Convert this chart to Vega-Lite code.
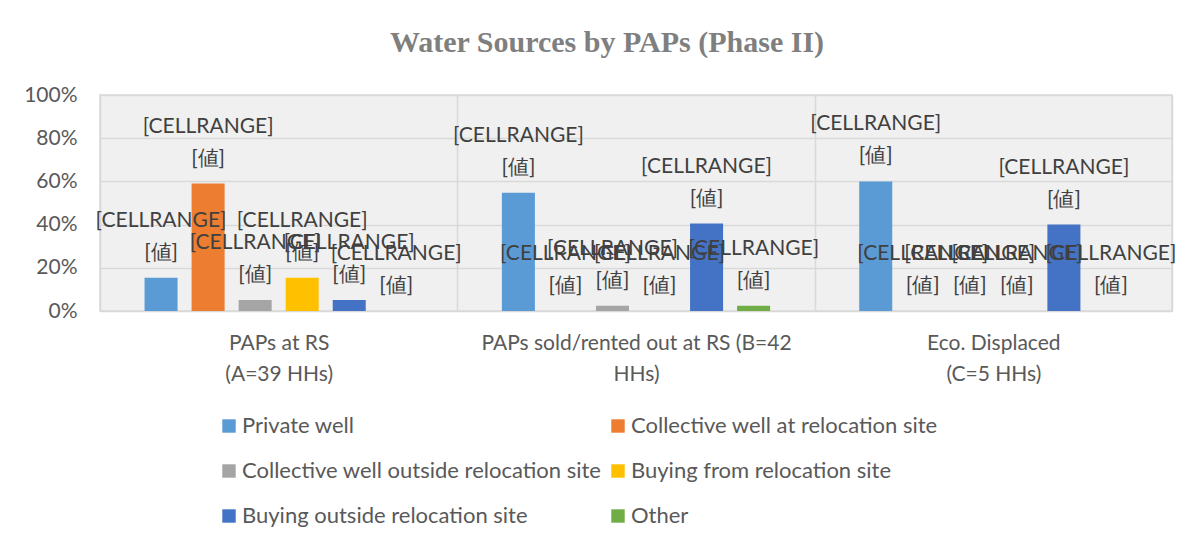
{
  "$schema": "https://vega.github.io/schema/vega-lite/v6.json",
  "autosize": {"type": "none"},
  "padding": {"left": 100, "top": 95, "right": 25, "bottom": 233},
  "width": 1072,
  "height": 216,
  "background": "white",
  "title": {
    "text": "Water Sources by PAPs (Phase II)",
    "font": "Liberation Serif",
    "fontSize": 30,
    "fontWeight": "bold",
    "color": "#7f7f7f",
    "anchor": "middle",
    "baseline": "alphabetic",
    "offset": 2,
    "dx": -29
  },
  "data": {
    "values": [
      {"group": "PAPs at RS (A=39 HHs)", "source": "Private well", "value": 0.154},
      {"group": "PAPs at RS (A=39 HHs)", "source": "Collective well at relocation site", "value": 0.59},
      {"group": "PAPs at RS (A=39 HHs)", "source": "Collective well outside relocation site", "value": 0.051},
      {"group": "PAPs at RS (A=39 HHs)", "source": "Buying from relocation site", "value": 0.154},
      {"group": "PAPs at RS (A=39 HHs)", "source": "Buying outside relocation site", "value": 0.051},
      {"group": "PAPs at RS (A=39 HHs)", "source": "Other", "value": 0},
      {"group": "PAPs sold/rented out at RS (B=42 HHs)", "source": "Private well", "value": 0.548},
      {"group": "PAPs sold/rented out at RS (B=42 HHs)", "source": "Collective well at relocation site", "value": 0},
      {"group": "PAPs sold/rented out at RS (B=42 HHs)", "source": "Collective well outside relocation site", "value": 0.024},
      {"group": "PAPs sold/rented out at RS (B=42 HHs)", "source": "Buying from relocation site", "value": 0},
      {"group": "PAPs sold/rented out at RS (B=42 HHs)", "source": "Buying outside relocation site", "value": 0.405},
      {"group": "PAPs sold/rented out at RS (B=42 HHs)", "source": "Other", "value": 0.024},
      {"group": "Eco. Displaced (C=5 HHs)", "source": "Private well", "value": 0.6},
      {"group": "Eco. Displaced (C=5 HHs)", "source": "Collective well at relocation site", "value": 0},
      {"group": "Eco. Displaced (C=5 HHs)", "source": "Collective well outside relocation site", "value": 0},
      {"group": "Eco. Displaced (C=5 HHs)", "source": "Buying from relocation site", "value": 0},
      {"group": "Eco. Displaced (C=5 HHs)", "source": "Buying outside relocation site", "value": 0.4},
      {"group": "Eco. Displaced (C=5 HHs)", "source": "Other", "value": 0}
    ]
  },
  "encoding": {
    "x": {
      "field": "group",
      "type": "nominal",
      "sort": null,
      "scale": {"paddingInner": 0, "paddingOuter": 0},
      "axis": {
        "title": null,
        "labelAngle": 0,
        "ticks": false,
        "tickSize": 0,
        "domain": false,
        "grid": true,
        "tickBand": "extent",
        "gridColor": "#d9d9d9",
        "gridWidth": 1.5,
        "labelFont": "Lato",
        "labelFontSize": 21,
        "labelColor": "#595959",
        "labelPadding": 21,
        "labelLineHeight": 31,
        "labelLimit": 500,
        "labelExpr": "datum.value == 'PAPs at RS (A=39 HHs)' ? ['PAPs at RS', '(A=39 HHs)'] : datum.value == 'Eco. Displaced (C=5 HHs)' ? ['Eco. Displaced', '(C=5 HHs)'] : datum.value == 'PAPs sold/rented out at RS (B=42 HHs)' ? ['PAPs sold/rented out at RS (B=42', 'HHs)'] : ''"
      }
    },
    "xOffset": {
      "field": "source",
      "type": "nominal",
      "sort": ["Private well", "Collective well at relocation site", "Collective well outside relocation site", "Buying from relocation site", "Buying outside relocation site", "Other"],
      "scale": {"paddingInner": 0.298, "paddingOuter": 0.947}
    },
    "y": {
      "field": "value",
      "type": "quantitative",
      "scale": {"domain": [0, 1]},
      "axis": {
        "title": null,
        "format": "%",
        "values": [0, 0.2, 0.4, 0.6, 0.8, 1],
        "ticks": false,
        "tickSize": 0,
        "domain": false,
        "gridColor": "#d9d9d9",
        "gridWidth": 1.5,
        "labelFont": "Lato",
        "labelFontSize": 21,
        "labelColor": "#595959",
        "labelPadding": 23
      }
    }
  },
  "layer": [
    {
      "mark": {"type": "bar"},
      "encoding": {
        "color": {
          "field": "source",
          "type": "nominal",
          "scale": {
            "domain": ["Private well", "Collective well at relocation site", "Collective well outside relocation site", "Buying from relocation site", "Buying outside relocation site", "Other"],
            "range": ["#5b9bd5", "#ed7d31", "#a5a5a5", "#ffc000", "#4472c4", "#70ad47"]
          },
          "legend": {
            "title": null,
            "orient": "none",
            "direction": "horizontal",
            "legendX": 118,
            "legendY": 320,
            "columns": 2,
            "symbolType": "square",
            "symbolSize": 180,
            "symbolStrokeWidth": 0,
            "labelFont": "Lato",
            "labelFontSize": 22,
            "labelColor": "#595959",
            "labelOffset": 2,
            "rowPadding": 23,
            "columnPadding": 5,
            "labelLimit": 500
          }
        }
      }
    },
    {
      "mark": {
        "type": "text",
        "text": ["[CELLRANGE]", "[値]"],
        "font": "Lato",
        "fontSize": 21,
        "color": "#404040",
        "baseline": "middle",
        "lineHeight": 32,
        "dy": -57
      }
    }
  ],
  "config": {
    "view": {"stroke": "#d9d9d9", "strokeWidth": 1.5, "fill": "#f0f0f0"}
  }
}
